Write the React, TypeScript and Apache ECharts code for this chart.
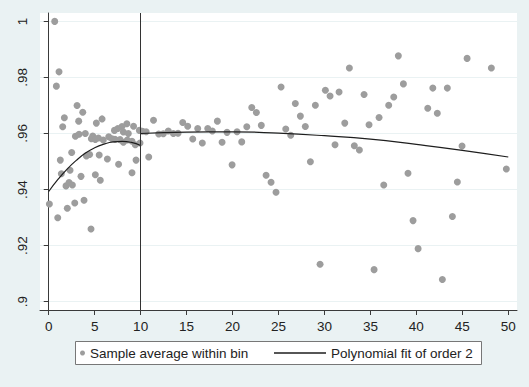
import React, { useEffect, useRef } from "react";
import * as echarts from "echarts";

// Binned sample averages (x = bin centre, y = average)
const binX: number[] = [
  0.65, 1.12, 0.83, 3.08, 3.7, 1.7, 5.8, 3.26, 5.18, 1.52,
  8.5, 7.97, 9.23, 7.52, 7.15, 8.12, 8.66, 9.86, 2.9, 3.3,
  3.98, 4.79, 4.64, 5.07, 5.4, 5.94, 6.53, 6.89, 7.21, 7.76,
  8.12, 8.55, 9.06, 9.42, 9.93, 2.5, 4.1, 4.45, 5.49, 6.38,
  7.6, 9.5, 1.26, 1.37, 2.32, 3.51, 5.07, 5.61, 9.06, 1.88,
  2.21, 2.57, 0.07, 0.98, 2.02, 2.83, 3.84, 4.6,
  10.2, 10.6, 10.88, 11.4, 11.97, 12.47, 13.01, 13.56, 14.07, 14.58,
  15.12, 15.67, 16.21, 16.71, 17.3, 17.8, 18.35, 18.86, 19.4, 19.95,
  20.49, 21.0, 21.55, 22.09, 22.59, 23.13, 23.65, 24.19, 24.73, 25.28,
  25.79, 26.33, 26.83, 27.38, 27.92, 28.47, 29.01, 29.52, 30.1, 30.61,
  31.15, 31.59, 32.21, 32.71, 33.25, 33.8, 34.31, 34.85, 35.4, 35.94,
  36.45, 36.99, 37.54, 38.04, 38.59, 39.09, 39.64, 40.19, 41.24, 41.79,
  42.28, 42.83, 43.37, 43.92, 44.46, 44.97, 45.52, 48.16, 49.79,
];
const binY: number[] = [
  1.0, 0.982, 0.9769, 0.97, 0.9676, 0.9656, 0.9652, 0.9644, 0.9637, 0.9624,
  0.9635, 0.9625, 0.9626, 0.9618, 0.9611, 0.9605, 0.96, 0.9611, 0.959, 0.9597,
  0.96, 0.9591, 0.9581, 0.9579, 0.9584, 0.9577, 0.9588, 0.9581, 0.9579, 0.9578,
  0.9569, 0.9577, 0.9572, 0.956, 0.9566, 0.9532, 0.952, 0.9525, 0.9523, 0.9509,
  0.949, 0.9505, 0.9505, 0.9456, 0.9469, 0.9447, 0.9453, 0.9433, 0.946, 0.9413,
  0.9425, 0.9416, 0.9348, 0.9299, 0.9333, 0.9352, 0.9362, 0.9259,
  0.9608, 0.9606, 0.9516, 0.9647, 0.9598, 0.9599, 0.9609, 0.96, 0.9601, 0.9639,
  0.9626, 0.958, 0.9618, 0.9566, 0.9618, 0.9609, 0.9644, 0.9569, 0.9604, 0.9488,
  0.9606, 0.957, 0.9624, 0.9693, 0.9675, 0.9629, 0.9451, 0.9426, 0.939, 0.9766,
  0.9616, 0.9594, 0.9707, 0.9662, 0.9625, 0.9499, 0.9701, 0.9133, 0.9754, 0.9734,
  0.956, 0.9748, 0.9637, 0.9834, 0.9556, 0.9541, 0.9739, 0.9631, 0.9114, 0.9657,
  0.9416, 0.9701, 0.973, 0.9877, 0.9777, 0.9458, 0.9289, 0.9189, 0.969, 0.9762,
  0.9672, 0.9079, 0.9762, 0.9304, 0.9427, 0.9555, 0.9868, 0.9834, 0.9473,
];

const fitLeftX: number[] = [0, 1, 2, 3, 4, 5, 6, 7, 8, 9, 10];
const fitLeftY: number[] = [0.9393, 0.9436, 0.9473, 0.9504, 0.953, 0.9549, 0.9562, 0.957, 0.9572, 0.9568, 0.9557];
const fitRightX: number[] = [10, 15, 20, 25, 30, 35, 40, 45, 50];
const fitRightY: number[] = [0.96, 0.9605, 0.9606, 0.9601, 0.9592, 0.958, 0.9561, 0.954, 0.9516];

const cutoff = 10;

const xTickValues: number[] = [0, 5, 10, 15, 20, 25, 30, 35, 40, 45, 50];
const yTickValues: number[] = [0.9, 0.92, 0.94, 0.96, 0.98, 1];
const yTickLabels: string[] = [".9", ".92", ".94", ".96", ".98", "1"];

const scatterName = "Sample average within bin";
const fitName = "Polynomial fit of order 2";

const FONT = "'Liberation Sans', Arial, sans-serif";
const BG = "#EAF2F3";
const AXIS = "#3a3a3a";
const LINE = "#1e1e1e";

export default function App() {
  const ref = useRef<HTMLDivElement>(null);

  useEffect(() => {
    if (!ref.current) return;
    const chart = echarts.init(ref.current, undefined, { renderer: "svg" });
    const zip = (xs: number[], ys: number[]) => xs.map((x, i) => [x, ys[i]]);

    chart.setOption({
      animation: false,
      backgroundColor: BG,
      textStyle: { fontFamily: FONT },
      grid: {
        left: 40,
        top: 13,
        right: 12,
        bottom: 77,
        show: true,
        backgroundColor: "#ffffff",
        borderWidth: 0,
      },
      xAxis: {
        type: "value",
        min: -0.95,
        max: 50.95,
        axisLine: { show: true, lineStyle: { color: AXIS, width: 1 } },
        axisTick: { show: true, length: 5, lineStyle: { color: AXIS }, customValues: xTickValues },
        axisLabel: {
          customValues: xTickValues,
          fontSize: 13.5,
          color: "#222",
          fontFamily: FONT,
          margin: 9,
        },
        splitLine: { show: false },
      },
      yAxis: {
        type: "value",
        min: 0.897,
        max: 1.003,
        axisLine: { show: true, lineStyle: { color: AXIS, width: 1 } },
        axisTick: { show: true, length: 5, lineStyle: { color: AXIS }, customValues: yTickValues },
        axisLabel: {
          customValues: yTickValues,
          rotate: 90,
          fontSize: 13.5,
          color: "#222",
          fontFamily: FONT,
          margin: 11,
          formatter: (v: number) => {
            const i = yTickValues.findIndex((t) => Math.abs(t - v) < 1e-9);
            return i >= 0 ? yTickLabels[i] : "";
          },
        },
        splitLine: { show: true, lineStyle: { color: BG, width: 1 } },
      },
      legend: [
        {
          data: [{ name: scatterName, icon: "circle" }],
          left: 80,
          top: 346,
          itemWidth: 5,
          itemHeight: 5,
          padding: 0,
          textStyle: { fontSize: 13.5, color: "#222", fontFamily: FONT },
          selectedMode: false,
        },
        {
          data: [
            {
              name: fitName,
              icon: "rect",
              itemStyle: { color: LINE, borderWidth: 0 },
            },
          ],
          left: 274,
          top: 346,
          itemWidth: 52,
          itemHeight: 1.3,
          padding: 0,
          textStyle: { fontSize: 13.5, color: "#222", fontFamily: FONT },
          selectedMode: false,
        },
      ],
      graphic: [
        {
          type: "rect",
          z: 0,
          shape: { x: 75.5, y: 341.5, width: 406, height: 23 },
          style: { fill: "#ffffff", stroke: "#777777", lineWidth: 1 },
        },
      ],
      series: [
        {
          name: scatterName,
          type: "scatter",
          data: zip(binX, binY),
          symbolSize: 7,
          itemStyle: { color: "#9d9d9d", opacity: 1 },
          z: 2,
          markLine: {
            silent: true,
            symbol: "none",
            label: { show: false },
            lineStyle: { color: "#333333", width: 1, type: "solid" },
            data: [{ xAxis: cutoff }],
          },
        },
        {
          name: fitName,
          type: "line",
          data: zip(fitLeftX, fitLeftY),
          smooth: true,
          symbol: "none",
          showSymbol: false,
          lineStyle: { color: LINE, width: 1.2 },
          itemStyle: { color: LINE },
          z: 3,
        },
        {
          name: fitName,
          type: "line",
          data: zip(fitRightX, fitRightY),
          smooth: true,
          symbol: "none",
          showSymbol: false,
          lineStyle: { color: LINE, width: 1.2 },
          itemStyle: { color: LINE },
          z: 3,
        },
      ],
    });

    return () => chart.dispose();
  }, []);

  return (
    <div
      ref={ref}
      style={{ position: "fixed", left: 0, top: 0, width: 529, height: 387, background: BG }}
    />
  );
}
